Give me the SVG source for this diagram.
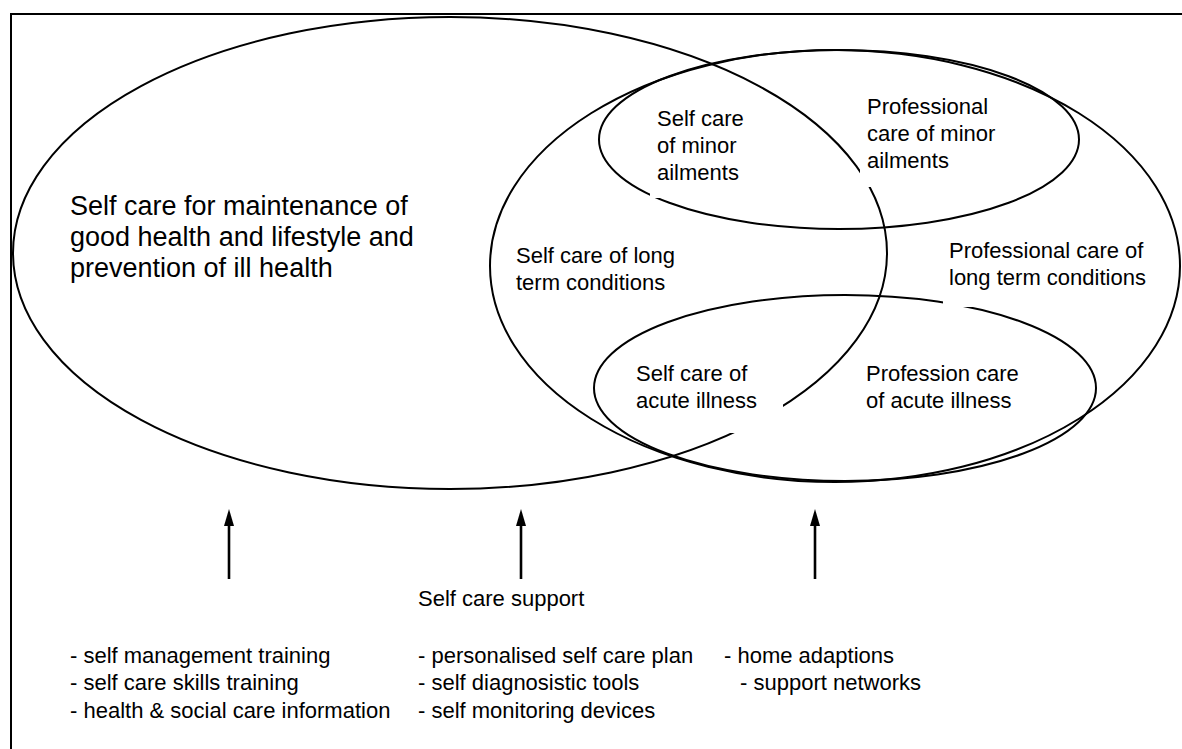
<svg xmlns="http://www.w3.org/2000/svg" width="1182" height="749" viewBox="0 0 1182 749">
  <style>
    .shape { fill: none; stroke: #000; stroke-width: 2; }
    .frame { fill: none; stroke: #000; stroke-width: 2; }
    .mask { fill: #fff; stroke: none; }
    .lbl { font-family: "Liberation Sans", Arial, sans-serif; font-size: 22px; fill: #000; }
    .big { font-family: "Liberation Sans", Arial, sans-serif; font-size: 27px; fill: #000; }
    .arrow { stroke: #000; stroke-width: 2.6; fill: none; }
  </style>
  <defs>
    <marker id="head" markerUnits="userSpaceOnUse" markerWidth="17" markerHeight="10" refX="0" refY="5" orient="auto">
      <path d="M0,0 L17,5 L0,10 Z" fill="#000"/>
    </marker>
  </defs>
  <rect x="0" y="0" width="1182" height="749" fill="#fff"/>
  <rect class="frame" x="11" y="14" width="1190" height="760"/>

  <g id="ellipse-maintenance">
    <ellipse class="shape" cx="450" cy="253" rx="437" ry="236"/>
  </g>
  <g id="ellipse-long-term">
    <ellipse class="shape" cx="835" cy="266" rx="345" ry="216"/>
  </g>
  <g id="ellipse-minor">
    <ellipse class="shape" cx="839" cy="139.5" rx="240" ry="89.5"/>
  </g>
  <g id="ellipse-acute">
    <ellipse class="shape" cx="845" cy="388" rx="251" ry="93"/>
  </g>

  <g id="label-maintenance">
    <text class="big" x="70" y="215">Self care for maintenance of</text>
    <text class="big" x="70" y="246">good health and lifestyle and</text>
    <text class="big" x="70" y="277">prevention of ill health</text>
  </g>
  <g id="label-self-minor">
    <rect class="mask" x="650" y="100" width="110" height="98"/>
    <text class="lbl" x="657" y="126">Self care</text>
    <text class="lbl" x="657" y="153">of minor</text>
    <text class="lbl" x="657" y="180">ailments</text>
  </g>
  <g id="label-prof-minor">
    <rect class="mask" x="860" y="88" width="140" height="99"/>
    <text class="lbl" x="867" y="114">Professional</text>
    <text class="lbl" x="867" y="141">care of minor</text>
    <text class="lbl" x="867" y="168">ailments</text>
  </g>
  <g id="label-self-long">
    <text class="lbl" x="516" y="263">Self care of long</text>
    <text class="lbl" x="516" y="290">term conditions</text>
  </g>
  <g id="label-prof-long">
    <rect class="mask" x="943" y="232" width="212" height="75"/>
    <text class="lbl" x="949" y="258">Professional care of</text>
    <text class="lbl" x="949" y="285">long term conditions</text>
  </g>
  <g id="label-self-acute">
    <rect class="mask" x="630" y="360" width="153" height="73"/>
    <text class="lbl" x="636" y="381">Self care of</text>
    <text class="lbl" x="636" y="408">acute illness</text>
  </g>
  <g id="label-prof-acute">
    <text class="lbl" x="866" y="381">Profession care</text>
    <text class="lbl" x="866" y="408">of acute illness</text>
  </g>

  <g id="connectors">
    <line class="arrow" x1="229" y1="579" x2="229" y2="526" marker-end="url(#head)"/>
    <line class="arrow" x1="521" y1="579" x2="521" y2="526" marker-end="url(#head)"/>
    <line class="arrow" x1="815" y1="579" x2="815" y2="526" marker-end="url(#head)"/>
  </g>

  <g id="label-support">
    <text class="lbl" x="418" y="606">Self care support</text>
  </g>
  <g id="list-col1">
    <text class="lbl" x="70" y="663">- self management training</text>
    <text class="lbl" x="70" y="690">- self care skills training</text>
    <text class="lbl" x="70" y="718">- health &amp; social care information</text>
  </g>
  <g id="list-col2">
    <text class="lbl" x="418" y="663">- personalised self care plan</text>
    <text class="lbl" x="418" y="690">- self diagnosistic tools</text>
    <text class="lbl" x="418" y="718">- self monitoring devices</text>
  </g>
  <g id="list-col3">
    <text class="lbl" x="724" y="663">- home adaptions</text>
    <text class="lbl" x="740" y="690">- support networks</text>
  </g>
</svg>
